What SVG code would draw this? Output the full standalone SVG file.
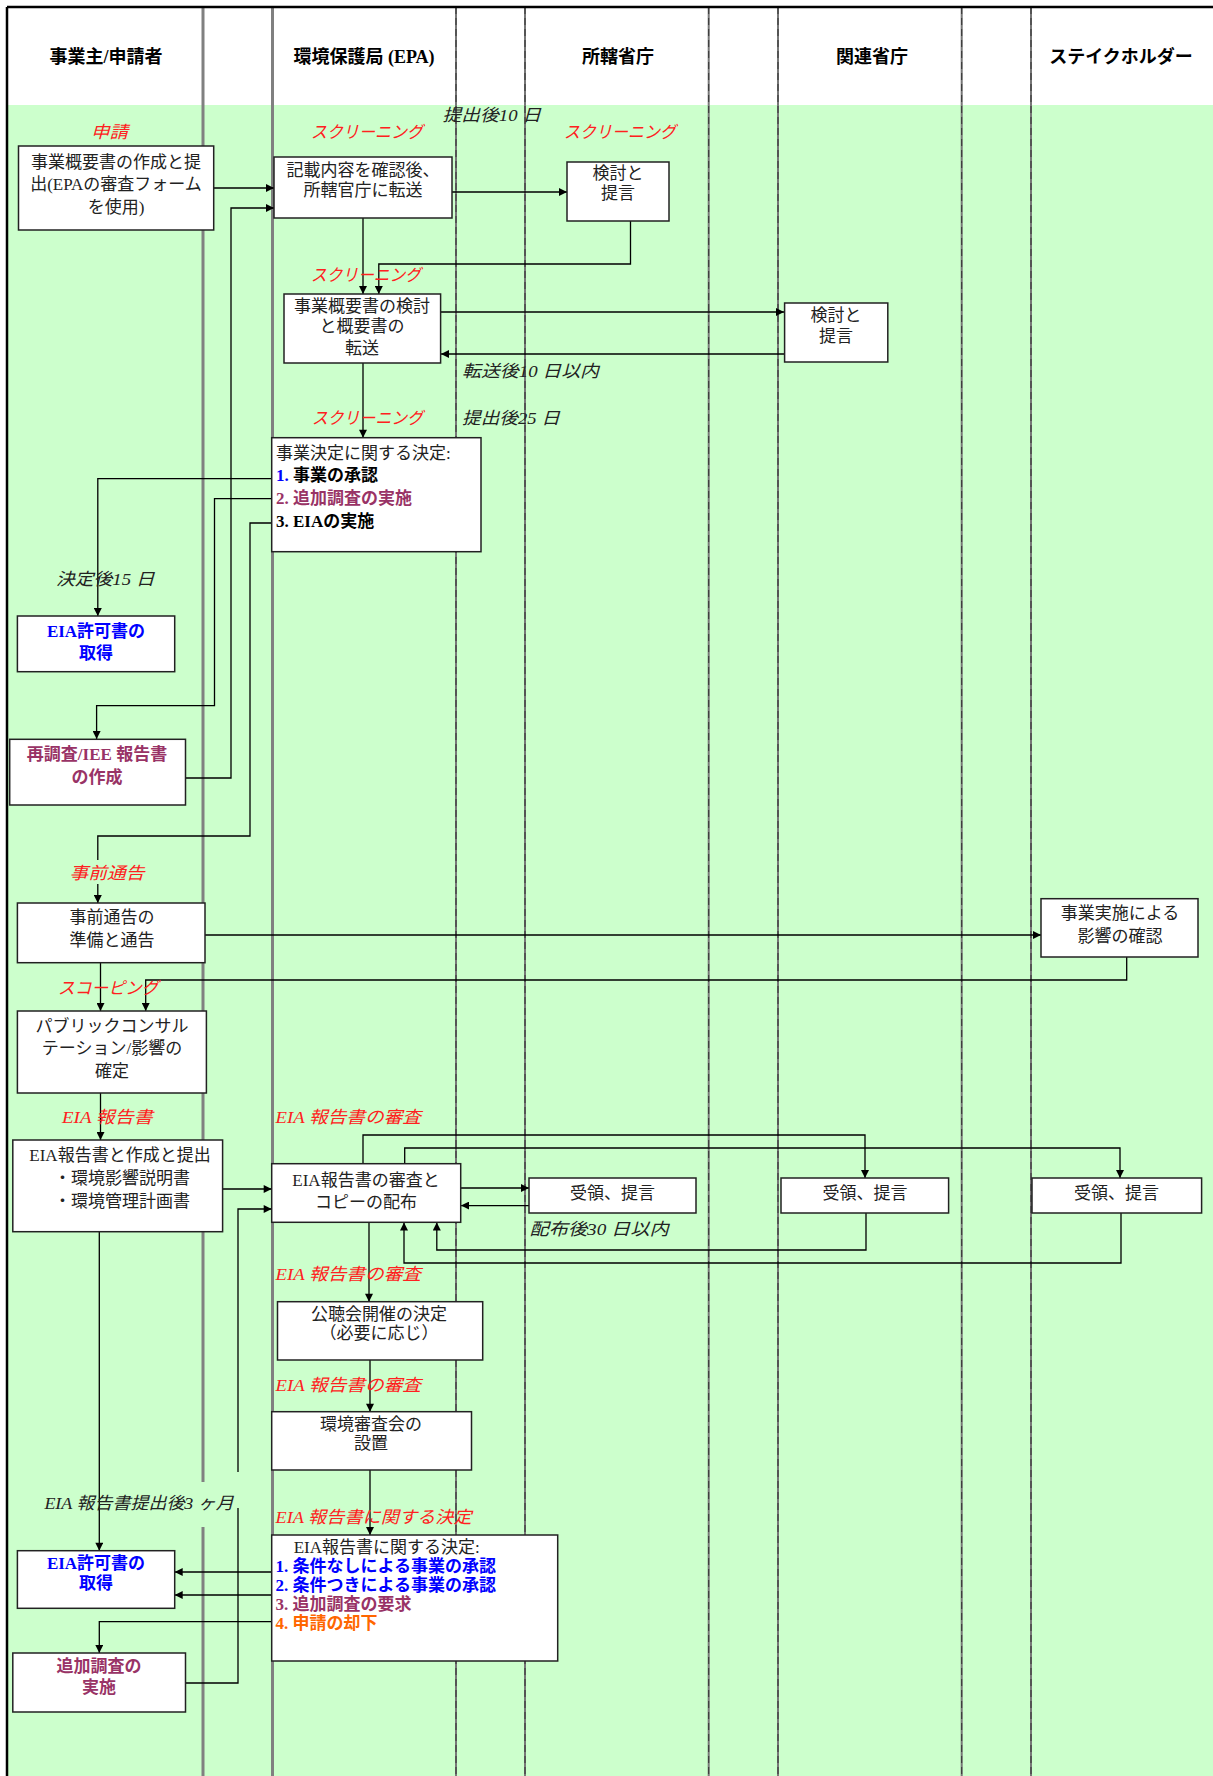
<svg xmlns="http://www.w3.org/2000/svg" width="1213" height="1776" viewBox="0 0 1213 1776">
<style>
.box{fill:#fff;stroke:#222;stroke-width:1.5}
.t{font-family:"Liberation Serif","Noto Sans CJK JP",serif;font-size:17px;fill:#222}
.c{text-anchor:middle}
.b{font-weight:bold}
.h{font-family:"Liberation Serif","Noto Sans CJK JP",sans-serif;font-weight:bold;font-size:18px;fill:#000;text-anchor:middle}
.r{font-family:"Liberation Serif","Noto Sans CJK JP",serif;font-style:italic;font-size:17px;fill:#FF2020}
.k{font-family:"Liberation Serif","Noto Sans CJK JP",serif;font-style:italic;font-size:17px;fill:#222}
.blue{fill:#0000FF}
.mar{fill:#993366}
.org{fill:#FF6600}
.blk{fill:#000}
.lane{stroke:#808080;stroke-width:3;fill:none}
.lane2{stroke:#777;stroke-width:2;fill:none}
.dash{stroke:#333;stroke-width:1;stroke-dasharray:7 4;fill:none}
.conn{stroke:#000;stroke-width:1.3;fill:none}
.arr{marker-end:url(#ah)}
</style>
<defs>
<marker id="ah" viewBox="0 0 10 10" refX="10" refY="5" markerUnits="userSpaceOnUse" markerWidth="9" markerHeight="8" orient="auto">
<path d="M0,0 L10,5 L0,10 z" fill="#000"/>
</marker>
</defs>
<g id="background">
<rect x="7" y="7" width="1206" height="98" fill="#fff"/>
<rect x="7" y="105" width="1206" height="1671" fill="#CCFFCC"/>
</g>
<g id="lanes">
<path class="lane" d="M203,7 V1482 M203,1527 V1776"/>
<path class="lane" d="M272.5,7 V1776"/>
<path class="lane2" d="M456,7 V1776 M525,7 V1776 M708.7,7 V1776 M778,7 V1776 M961.7,7 V1776 M1031,7 V1776"/>
<path class="dash" d="M456,7 V1776 M525,7 V1776 M708.7,7 V1776 M778,7 V1776 M961.7,7 V1776 M1031,7 V1776"/>
<path d="M7,7 H1213 M7,7 V1776" stroke="#000" stroke-width="2.5" fill="none"/>
</g>
<g id="headers">
<text class="h" x="106" y="63">事業主/申請者</text>
<text class="h" x="364" y="63">環境保護局 (EPA)</text>
<text class="h" x="618" y="63">所轄省庁</text>
<text class="h" x="872" y="63">関連省庁</text>
<text class="h" x="1121" y="63">ステイクホルダー</text>
</g>
<g id="connectors">
<path class="conn arr" d="M213.7,188 H274"/>
<path class="conn arr" d="M185.5,778 H231 V208 H274"/>
<path class="conn arr" d="M452,192 H567"/>
<path class="conn arr" d="M363,218 V294"/>
<path class="conn arr" d="M630.5,221 V264 H378.8 V294"/>
<path class="conn arr" d="M440.6,312 H784"/>
<path class="conn arr" d="M784,354 H441"/>
<path class="conn arr" d="M363,363 V437.7"/>
<path class="conn arr" d="M271.7,478.7 H97.8 V616"/>
<path class="conn arr" d="M271.7,498.7 H214.5 V705.7 H96.6 V739"/>
<path class="conn" d="M271.7,523 H250 V836 H97.8 V860"/>
<path class="conn arr" d="M97.8,884 V903"/>
<path class="conn arr" d="M205,935 H1041"/>
<path class="conn arr" d="M1126.7,957 V980 H145.7 V1011"/>
<path class="conn arr" d="M100.5,963 V1011"/>
<path class="conn arr" d="M100.5,1093 V1140"/>
<path class="conn arr" d="M223,1189 H271.7"/>
<path class="conn" d="M185.5,1683 H238 V1508"/>
<path class="conn arr" d="M238,1472 V1209 H271.7"/>
<path class="conn arr" d="M363,1163.7 V1135 H865 V1178"/>
<path class="conn arr" d="M404.7,1163.7 V1148 H1120 V1178"/>
<path class="conn arr" d="M460.7,1188 H529"/>
<path class="conn arr" d="M529,1205.6 H461"/>
<path class="conn arr" d="M866,1213 V1250 H436.8 V1222.5"/>
<path class="conn arr" d="M1121,1213 V1263 H404 V1222.5"/>
<path class="conn arr" d="M369,1222.3 V1301.7"/>
<path class="conn arr" d="M370,1360 V1411.7"/>
<path class="conn arr" d="M370,1470 V1535"/>
<path class="conn arr" d="M271.7,1572 H174.7"/>
<path class="conn arr" d="M271.7,1595 H174.7"/>
<path class="conn arr" d="M99.3,1231.7 V1550.7"/>
<path class="conn arr" d="M271.7,1621.7 H99.3 V1653"/>
</g>
<g id="labels">
<text class="r" x="91" y="138" textLength="37" lengthAdjust="spacingAndGlyphs">申請</text>
<text class="r" x="311" y="138" textLength="112" lengthAdjust="spacingAndGlyphs">スクリーニング</text>
<text class="k" x="442.5" y="121" textLength="98.5" lengthAdjust="spacingAndGlyphs">提出後10 日</text>
<text class="r" x="564" y="138" textLength="112" lengthAdjust="spacingAndGlyphs">スクリーニング</text>
<text class="r" x="311" y="281" textLength="110" lengthAdjust="spacingAndGlyphs">スクリーニング</text>
<text class="k" x="462" y="377" textLength="137" lengthAdjust="spacingAndGlyphs">転送後10 日以内</text>
<text class="r" x="312" y="424" textLength="111" lengthAdjust="spacingAndGlyphs">スクリーニング</text>
<text class="k" x="462" y="424" textLength="98" lengthAdjust="spacingAndGlyphs">提出後25 日</text>
<text class="k" x="56" y="585" textLength="98.6" lengthAdjust="spacingAndGlyphs">決定後15 日</text>
<text class="r" x="69.6" y="879" textLength="75" lengthAdjust="spacingAndGlyphs">事前通告</text>
<text class="r" x="58" y="994" textLength="100.5" lengthAdjust="spacingAndGlyphs">スコーピング</text>
<text class="r" x="62" y="1123" textLength="90.7" lengthAdjust="spacingAndGlyphs">EIA 報告書</text>
<text class="r" x="275.6" y="1123" textLength="145.4" lengthAdjust="spacingAndGlyphs">EIA 報告書の審査</text>
<text class="k" x="529.6" y="1235" textLength="139" lengthAdjust="spacingAndGlyphs">配布後30 日以内</text>
<text class="r" x="275.6" y="1280" textLength="145.4" lengthAdjust="spacingAndGlyphs">EIA 報告書の審査</text>
<text class="r" x="275.6" y="1391" textLength="145.4" lengthAdjust="spacingAndGlyphs">EIA 報告書の審査</text>
<text class="k" x="44.4" y="1509" textLength="189.4" lengthAdjust="spacingAndGlyphs">EIA 報告書提出後3 ヶ月</text>
<text class="r" x="275.6" y="1523" textLength="196" lengthAdjust="spacingAndGlyphs">EIA 報告書に関する決定</text>
</g>
<g id="nodeA">
<rect class="box" x="18.5" y="146" width="195.2" height="84"/>
<text class="t c" x="116" y="168">事業概要書の作成と提</text>
<text class="t c" x="116" y="190">出(EPAの審査フォーム</text>
<text class="t c" x="116" y="213">を使用)</text>
</g>
<g id="nodeB">
<rect class="box" x="274" y="157" width="178" height="61"/>
<text class="t c" x="363" y="176">記載内容を確認後、</text>
<text class="t c" x="363" y="196">所轄官庁に転送</text>
</g>
<g id="nodeC">
<rect class="box" x="567" y="162" width="102" height="59"/>
<text class="t c" x="618" y="179">検討と</text>
<text class="t c" x="618" y="199">提言</text>
</g>
<g id="nodeE">
<rect class="box" x="284" y="294" width="156.6" height="69"/>
<text class="t c" x="362" y="312">事業概要書の検討</text>
<text class="t c" x="362" y="332">と概要書の</text>
<text class="t c" x="362" y="354">転送</text>
</g>
<g id="nodeF">
<rect class="box" x="784.6" y="303" width="103.2" height="59"/>
<text class="t c" x="836" y="321">検討と</text>
<text class="t c" x="836" y="342">提言</text>
</g>
<g id="nodeD">
<rect class="box" x="271.7" y="437.7" width="209.3" height="114"/>
<text class="t" x="276" y="459">事業決定に関する決定:</text>
<text class="t b" x="276" y="481"><tspan class="blue">1. </tspan><tspan class="blk">事業の承認</tspan></text>
<text class="t b mar" x="276" y="504">2. 追加調査の実施</text>
<text class="t b blk" x="276" y="527">3. EIAの実施</text>
</g>
<g id="nodeG">
<rect class="box" x="17.4" y="616" width="157.3" height="55.7"/>
<text class="t c b blue" x="96" y="637">EIA許可書の</text>
<text class="t c b blue" x="96" y="659">取得</text>
</g>
<g id="nodeH">
<rect class="box" x="9.7" y="739.3" width="175.8" height="65.7"/>
<text class="t c b mar" x="97" y="760">再調査/IEE 報告書</text>
<text class="t c b mar" x="97" y="783">の作成</text>
</g>
<g id="nodeI">
<rect class="box" x="17.4" y="903" width="187.6" height="59.7"/>
<text class="t c" x="112" y="923">事前通告の</text>
<text class="t c" x="112" y="946">準備と通告</text>
</g>
<g id="nodeJ">
<rect class="box" x="1041" y="898.7" width="157" height="58.3"/>
<text class="t c" x="1120" y="919">事業実施による</text>
<text class="t c" x="1120" y="942">影響の確認</text>
</g>
<g id="nodeK">
<rect class="box" x="17.4" y="1011" width="189" height="82"/>
<text class="t c" x="112" y="1032">パブリックコンサル</text>
<text class="t c" x="112" y="1054">テーション/影響の</text>
<text class="t c" x="112" y="1077">確定</text>
</g>
<g id="nodeL">
<rect class="box" x="12.8" y="1140" width="209.8" height="91.7"/>
<text class="t c" x="120" y="1161">EIA報告書と作成と提出</text>
<text class="t c" x="122" y="1184">・環境影響説明書</text>
<text class="t c" x="122" y="1207">・環境管理計画書</text>
</g>
<g id="nodeM">
<rect class="box" x="271.7" y="1163.7" width="189" height="58.6"/>
<text class="t c" x="366" y="1186">EIA報告書の審査と</text>
<text class="t c" x="366" y="1208">コピーの配布</text>
</g>
<g id="nodeN">
<rect class="box" x="529" y="1178" width="167" height="35"/>
<text class="t c" x="612.6" y="1199">受領、提言</text>
</g>
<g id="nodeO">
<rect class="box" x="781" y="1178" width="167.6" height="35"/>
<text class="t c" x="865" y="1199">受領、提言</text>
</g>
<g id="nodeP">
<rect class="box" x="1032" y="1178" width="169.6" height="35"/>
<text class="t c" x="1116.6" y="1199">受領、提言</text>
</g>
<g id="nodeQ">
<rect class="box" x="277.5" y="1301.7" width="205.2" height="58.3"/>
<text class="t c" x="379" y="1320">公聴会開催の決定</text>
<text class="t c" x="379" y="1339">（必要に応じ）</text>
</g>
<g id="nodeR">
<rect class="box" x="271.7" y="1411.7" width="199.8" height="58.3"/>
<text class="t c" x="371" y="1430">環境審査会の</text>
<text class="t c" x="371" y="1449">設置</text>
</g>
<g id="nodeS">
<rect class="box" x="271.7" y="1535" width="286" height="126"/>
<text class="t" x="293.7" y="1553">EIA報告書に関する決定:</text>
<text class="t b blue" x="275.6" y="1572">1. 条件なしによる事業の承認</text>
<text class="t b blue" x="275.6" y="1591">2. 条件つきによる事業の承認</text>
<text class="t b mar" x="275.6" y="1610">3. 追加調査の要求</text>
<text class="t b org" x="275.6" y="1629">4. 申請の却下</text>
</g>
<g id="nodeT">
<rect class="box" x="17.4" y="1550.7" width="157.3" height="57.6"/>
<text class="t c b blue" x="96" y="1569">EIA許可書の</text>
<text class="t c b blue" x="96" y="1589">取得</text>
</g>
<g id="nodeU">
<rect class="box" x="12.8" y="1653" width="172.7" height="59"/>
<text class="t c b mar" x="99" y="1672">追加調査の</text>
<text class="t c b mar" x="99" y="1693">実施</text>
</g>
</svg>
